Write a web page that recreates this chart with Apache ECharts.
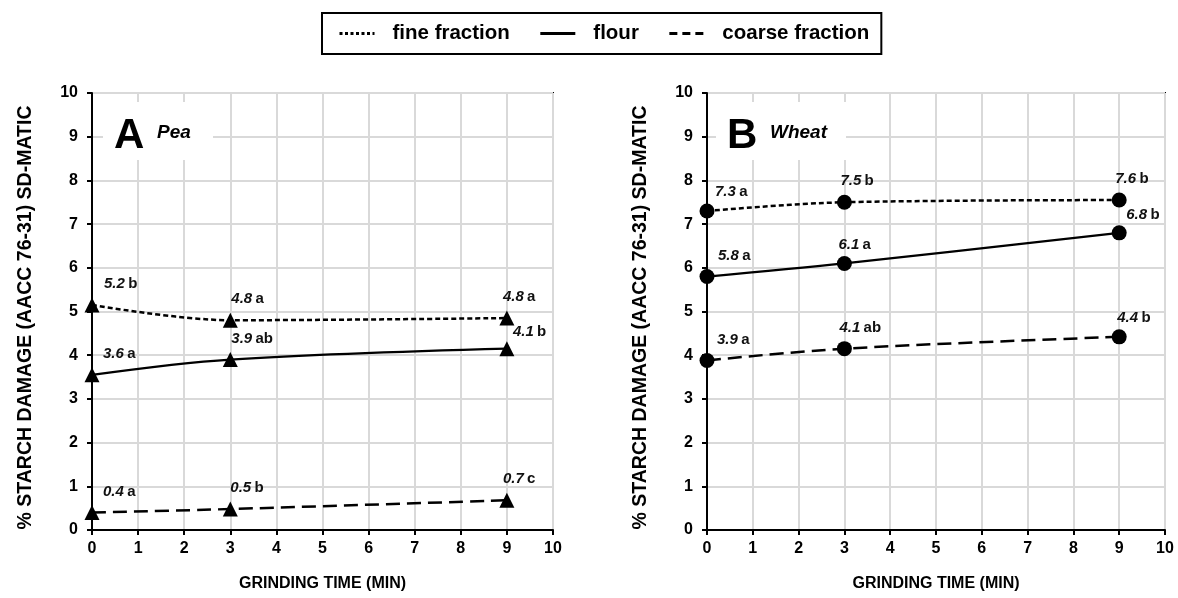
<!DOCTYPE html>
<html><head><meta charset="utf-8">
<script src="https://cdn.jsdelivr.net/npm/echarts@6/dist/echarts.min.js"></script>
<style>html,body{margin:0;padding:0;background:#fff}#c{width:1178px;height:598px}</style>
</head><body><div id="c"></div>
<script>
const times = [0, 3, 9];
const xTicks = [0,1,2,3,4,5,6,7,8,9,10];
const yTicks = [0,1,2,3,4,5,6,7,8,9,10];
const seriesNames = ['fine fraction', 'flour', 'coarse fraction'];
// Pea (panel A)
const peaFine = [5.15, 4.8, 4.85];
const peaFlour = [3.55, 3.9, 4.15];
const peaCoarse = [0.4, 0.48, 0.68];
const peaFineLbl = ['5.2', '4.8', '4.8'];
const peaFineSig = ['b', 'a', 'a'];
const peaFlourLbl = ['3.6', '3.9', '4.1'];
const peaFlourSig = ['a', 'ab', 'b'];
const peaCoarseLbl = ['0.4', '0.5', '0.7'];
const peaCoarseSig = ['a', 'b', 'c'];
// Wheat (panel B)
const wheatFine = [7.3, 7.5, 7.55];
const wheatFlour = [5.8, 6.1, 6.8];
const wheatCoarse = [3.88, 4.15, 4.42];
const wheatFineLbl = ['7.3', '7.5', '7.6'];
const wheatFineSig = ['a', 'b', 'b'];
const wheatFlourLbl = ['5.8', '6.1', '6.8'];
const wheatFlourSig = ['a', 'a', 'b'];
const wheatCoarseLbl = ['3.9', '4.1', '4.4'];
const wheatCoarseSig = ['a', 'ab', 'b'];

const FONT = '"Liberation Sans", Arial, sans-serif';
const styles = {
  'fine fraction': {type: [5, 3], width: 2.5, legendType: [3, 2.5]},
  'flour': {type: 'solid', width: 2.3, legendType: 'solid'},
  'coarse fraction': {type: [14, 7], width: 2.5, legendType: [8, 5]}
};

function mkSeries(idx, name, vals, lbl, sig, symbol, symSize, offs) {
  return {
    type: 'line', name: name + (idx ? ' B' : ' A'),
    xAxisIndex: idx, yAxisIndex: idx,
    data: times.map((t, i) => [t, vals[i]]),
    smooth: 0.35,
    symbol: symbol, symbolSize: symSize,
    itemStyle: {color: '#000'},
    lineStyle: {color: '#000', type: styles[name].type, width: styles[name].width},
    label: {
      show: true, position: 'top', distance: 6, align: 'left',
      formatter: p => '{i|' + lbl[p.dataIndex] + '} {n|' + sig[p.dataIndex] + '}',
      rich: {
        i: {fontFamily: FONT, fontSize: 15, fontWeight: 'bold', fontStyle: 'italic', color: '#111'},
        n: {fontFamily: FONT, fontSize: 15, fontWeight: 'bold', color: '#111'}
      }
    },
    labelLayout: p => ({dx: offs[p.dataIndex][0], dy: offs[p.dataIndex][1]}),
    z: 3
  };
}

const grids = [
  {left: 92, right: 625, top: 93, bottom: 68},
  {left: 707, right: 13, top: 93, bottom: 68}
];
const axisFont = {fontFamily: FONT, fontSize: 16, fontWeight: 'bold', color: '#000'};

function panelTag(x, y, w, h, letter, name, nameDx) {
  return {
    type: 'group', left: x, top: y, z: 50,
    children: [
      {type: 'rect', shape: {x: 0, y: 0, width: w, height: h}, style: {fill: '#fff'}, z: 50},
      {type: 'text', x: 11, y: 13, z: 51, style: {text: letter, font: 'bold 42px ' + FONT, fill: '#000', textVerticalAlign: 'top'}},
      {type: 'text', x: nameDx, y: 21, z: 51, style: {text: name, font: 'italic bold 19px ' + FONT, fill: '#000', textVerticalAlign: 'top'}}
    ]
  };
}

const option = {
  animation: false,
  backgroundColor: '#fff',
  grid: grids.map(g => Object.assign({show: true, borderColor: '#000', borderWidth: 2, backgroundColor: 'transparent'}, g)),
  legend: {
    data: seriesNames.map(n => ({name: n, lineStyle: {type: styles[n].legendType, width: 3}})),
    left: 322, top: 13,
    padding: [10, 12, 10, 16],
    borderColor: '#000', borderWidth: 2,
    itemWidth: 35, itemHeight: 14, itemGap: 29,
    itemStyle: {opacity: 0},
    textStyle: {fontFamily: FONT, fontSize: 20.5, fontWeight: 'bold', color: '#000', padding: [0, 0, 0, 13]}
  },
  xAxis: [0, 1].map(i => ({
    type: 'value', gridIndex: i, min: 0, max: 10, interval: 1,
    name: 'GRINDING TIME (MIN)', nameLocation: 'middle', nameGap: 46,
    nameTextStyle: {fontFamily: FONT, fontSize: 16, fontWeight: 'bold', color: '#000'},
    axisLine: {show: true, lineStyle: {color: '#000', width: 2}},
    axisTick: {show: true, length: 5, lineStyle: {color: '#000', width: 2}},
    axisLabel: Object.assign({margin: 11, formatter: v => xTicks.includes(v) ? String(v) : ''}, axisFont),
    splitLine: {show: true, lineStyle: {color: '#d9d9d9', width: 2}}
  })),
  yAxis: [0, 1].map(i => ({
    type: 'value', gridIndex: i, min: 0, max: 10, interval: 1,
    name: '% STARCH DAMAGE (AACC 76-31) SD-MATIC', nameLocation: 'middle', nameGap: 56,
    nameRotate: 90,
    nameTextStyle: {fontFamily: FONT, fontSize: 19.5, fontWeight: 'bold', color: '#000', padding: [0, 12, 0, 0]},
    axisLine: {show: true, lineStyle: {color: '#000', width: 2}},
    axisTick: {show: true, length: 5, lineStyle: {color: '#000', width: 2}},
    axisLabel: Object.assign({margin: 14, formatter: v => yTicks.includes(v) ? String(v) : ''}, axisFont),
    splitLine: {show: true, lineStyle: {color: '#d9d9d9', width: 2}}
  })),
  graphic: [
    panelTag(103, 102, 110, 58, 'A', 'Pea', 54),
    panelTag(716, 102, 130, 58, 'B', 'Wheat', 54)
  ],
  series: [
    ...seriesNames.map(n => ({type: 'line', name: n, data: [], symbol: 'none', xAxisIndex: 0, yAxisIndex: 0,
      itemStyle: {color: '#000'}, lineStyle: {color: '#000', type: styles[n].type, width: 2.5}})),
    mkSeries(0, 'fine fraction', peaFine, peaFineLbl, peaFineSig, 'triangle', 15, [[12,0],[1,0],[-4,0]]),
    mkSeries(0, 'flour', peaFlour, peaFlourLbl, peaFlourSig, 'triangle', 15, [[11,0],[1,0],[6,4]]),
    mkSeries(0, 'coarse fraction', peaCoarse, peaCoarseLbl, peaCoarseSig, 'triangle', 15, [[11,0],[0,0],[-4,0]]),
    mkSeries(1, 'fine fraction', wheatFine, wheatFineLbl, wheatFineSig, 'circle', 15, [[8,2],[-4,0],[-4,0]]),
    mkSeries(1, 'flour', wheatFlour, wheatFlourLbl, wheatFlourSig, 'circle', 15, [[11,0],[-6,2],[7,3]]),
    mkSeries(1, 'coarse fraction', wheatCoarse, wheatCoarseLbl, wheatCoarseSig, 'circle', 15, [[10,0],[-5,0],[-2,2]])
  ]
};
const chart = echarts.init(document.getElementById('c'), null, {renderer: 'canvas'});
chart.setOption(option);
</script></body></html>
